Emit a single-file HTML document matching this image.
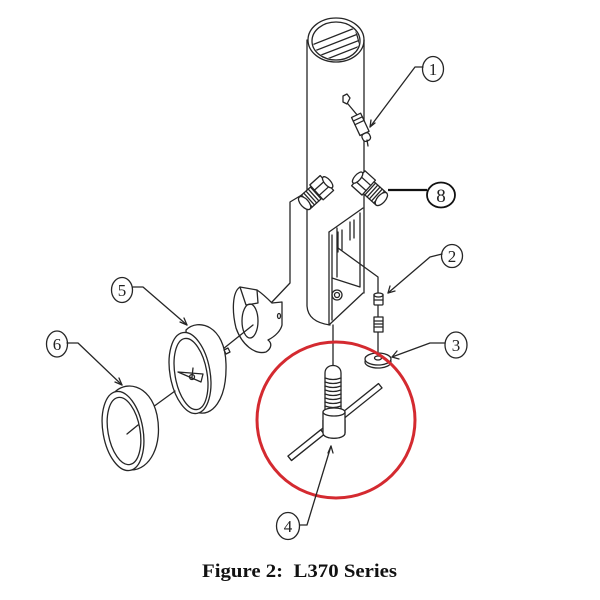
<!DOCTYPE html>
<html><head><meta charset="utf-8">
<style>
html,body{margin:0;padding:0;background:#fff;}
svg{display:block;}
.l{fill:none;stroke:#262626;stroke-width:1.3;stroke-linejoin:round;stroke-linecap:round;}
.w{fill:#fff;stroke:#262626;stroke-width:1.3;stroke-linejoin:round;}
.num{font-family:"Liberation Serif",serif;font-size:17px;fill:#222;text-anchor:middle;}
</style></head>
<body>
<svg width="600" height="600" viewBox="0 0 600 600" xmlns="http://www.w3.org/2000/svg">
<defs>
<clipPath id="topc"><ellipse cx="336" cy="41" rx="23" ry="18"/></clipPath>
</defs>

<!-- Tube -->
<path class="l" d="M307,40 L307,306 Q308,322 330,325"/>
<path class="l" d="M364,40 L364,293"/>
<ellipse class="l" cx="336" cy="40" rx="28" ry="22"/>
<ellipse class="l" cx="336" cy="41" rx="24" ry="19"/>
<g clip-path="url(#topc)" class="l">
  <path d="M312,45 L355,28 M312,52 L358,34 M316,57 L360,40 M322,61 L360,46"/>
  <path d="M355,28 L360,46"/>
</g>
<!-- bottom of body -->
<path class="l" d="M363,293 L330,324"/>
<path class="l" d="M329,232 L329,325 M332,235 L332,320"/>
<path class="l" d="M329,232 L363,208"/>
<path class="l" d="M337,228 L337,277 M360,213 L360,287 M332,278 L360,287"/>
<path class="l" d="M338,232 L338,252 M342,230 L342,250 M350,222 L350,240 M354,220 L354,238"/>
<circle class="l" cx="337" cy="295" r="5"/>
<circle class="l" cx="337" cy="295" r="2.5"/>

<!-- line from inner box to part 2 -->
<path class="l" d="M338,248 L378,277 L378,355"/>

<!-- part 1 fitting -->
<path class="l" d="M343,96 L347,94 L350,98 L347,104 L343,102 Z"/>
<path class="l" d="M348,104 L358,116"/>
<g transform="translate(362,128) rotate(65)">
  <rect class="w" x="-14" y="-5" width="20" height="10"/>
  <path class="l" d="M-10,-5 L-10,5 M-6,-5 L-6,5"/>
  <rect class="w" x="6" y="-4" width="8" height="8" rx="3"/>
</g>
<path class="l" d="M367,140 L368,146"/>

<!-- connector from left fitting down to bracket -->
<path class="l" d="M305,193 L290,202 L290,283 L272,302"/>

<!-- left fitting -->
<g transform="translate(318,191) rotate(-42)">
  <rect class="w" x="-18" y="-8" width="18" height="16"/>
  <path class="l" d="M-15,-8 L-15,8 M-12,-8 L-12,8 M-9,-8 L-9,8 M-6,-8 L-6,8 M-3,-8 L-3,8"/>
  <ellipse class="w" cx="-18" cy="0" rx="4" ry="8"/>
  <rect class="w" x="-2" y="-10" width="14" height="20"/>
  <path class="l" d="M-2,-3 L12,-3 M-2,4 L12,4"/>
  <ellipse class="w" cx="13" cy="0" rx="3" ry="7"/>
</g>
<!-- right fitting -->
<g transform="translate(368,187) rotate(42)">
  <rect class="w" x="0" y="-8" width="18" height="16"/>
  <path class="l" d="M3,-8 L3,8 M6,-8 L6,8 M9,-8 L9,8 M12,-8 L12,8 M15,-8 L15,8"/>
  <ellipse class="w" cx="18" cy="0" rx="4" ry="8"/>
  <rect class="w" x="-13" y="-10" width="14" height="20"/>
  <path class="l" d="M-13,-3 L1,-3 M-13,4 L1,4"/>
  <ellipse class="w" cx="-14" cy="0" rx="3" ry="7"/>
</g>

<!-- bracket -->
<path class="w" d="M240,287 C232,292 232,312 236,328 C242,345 255,355 266,352 C272,348 272,343 268,340 C276,336 281,330 282,325 L282,302 L272,303 C265,296 260,292 257,290 Z"/>
<path class="l" d="M240,287 L246,305 L258,303 L257,290"/>
<ellipse class="l" cx="250" cy="321" rx="8" ry="17"/>
<ellipse class="l" cx="279" cy="316" rx="1.5" ry="2.5"/>
<path class="l" d="M253,325 L223,349"/>

<!-- gauge 5 -->
<path class="w" d="M186,330 C198,318 225,325 226,364 C227,400 212,418 196,412 L190,410 Z"/>
<path class="l" d="M224,350 l4,-2 l2,4 l-4,2 z"/>
<ellipse class="w" cx="190" cy="373" rx="20" ry="41" transform="rotate(-10 190 373)"/>
<ellipse class="l" cx="191" cy="374" rx="16" ry="36" transform="rotate(-10 191 374)"/>
<path class="l" d="M178,372 L203,374 L201,382 Z"/>
<circle class="l" cx="192" cy="377" r="2.5"/>
<path class="l" d="M192,377 L193,368"/>
<path class="l" d="M175,391 L153,407"/>

<!-- bezel 6 -->
<path class="w" d="M113,394 C124,380 150,383 157,415 C163,445 150,470 131,470 L122,468 Z"/>
<ellipse class="w" cx="123" cy="431" rx="20" ry="40" transform="rotate(-10 123 431)"/>
<ellipse class="l" cx="124" cy="431" rx="16" ry="34" transform="rotate(-10 124 431)"/>
<path class="l" d="M127,434 L138,425"/>

<!-- part 2 -->
<rect class="w" x="374" y="294" width="9" height="11" rx="1"/>
<ellipse class="w" cx="378.5" cy="295" rx="4.5" ry="2"/>
<path class="l" d="M374,300 L383,300"/>
<rect class="w" x="374" y="317" width="9" height="15"/>
<path class="l" d="M374,321 L383,321 M374,324 L383,324 M374,327 L383,327"/>
<!-- washer 3 -->
<ellipse class="w" cx="378" cy="362" rx="13" ry="6"/>
<ellipse class="w" cx="378" cy="359" rx="13" ry="6"/>
<ellipse class="l" cx="378" cy="358" rx="3.5" ry="2"/>

<!-- T-handle 4 -->
<path class="l" d="M333,325 L333,366"/>
<g transform="translate(335,422) rotate(-38.7)">
  <rect class="w" x="-58" y="-2.8" width="116" height="5.6"/>
</g>
<path class="w" d="M325,412 L325,373 C325,363 341,363 341,373 L341,412 Z"/>
<path class="l" d="M325,378 Q333,381 341,378 M325,382 Q333,385 341,382 M325,386 Q333,389 341,386 M325,390 Q333,393 341,390 M325,394 Q333,397 341,394 M325,398 Q333,401 341,398 M325,402 Q333,405 341,402 M325,406 Q333,409 341,406"/>
<path class="w" d="M323,412 L323,433 C323,440 345,440 345,433 L345,412 Z"/>
<ellipse class="w" cx="334" cy="412" rx="11" ry="4"/>
<g transform="translate(335,422) rotate(-38.7)">
  <rect class="w" x="-58" y="-2.8" width="42" height="5.6"/>
</g>
<path class="w" d="M323,420 L323,433 C323,440 345,440 345,433 L345,420"/>

<!-- red circle -->
<ellipse cx="336" cy="420" rx="79" ry="78" fill="none" stroke="#d42a30" stroke-width="3"/>

<!-- Leaders & labels -->
<!-- 1 -->
<path class="l" d="M423,67 L415,67 L370,127"/>
<path class="l" d="M370,127 L371,120 M370,127 L375,123"/>
<ellipse class="l" cx="433" cy="69" rx="10.5" ry="12.5"/>
<text class="num" x="433" y="75">1</text>
<!-- 8 -->
<path d="M388,190 L427,190" stroke="#111" stroke-width="2.2"/>
<ellipse cx="441" cy="195" rx="14" ry="12.5" fill="none" stroke="#111" stroke-width="1.8"/>
<text class="num" x="441" y="202" style="font-size:19px">8</text>
<!-- 2 -->
<path class="l" d="M442,254 L430,257 L388,293"/>
<path class="l" d="M388,293 L390,286 M388,293 L395,291"/>
<ellipse class="l" cx="452" cy="256" rx="10.5" ry="11.5"/>
<text class="num" x="452" y="262">2</text>
<!-- 3 -->
<path class="l" d="M445,343 L430,343 L392,357"/>
<path class="l" d="M392,357 L397,351 M392,357 L399,359"/>
<ellipse class="l" cx="456" cy="345" rx="11" ry="13"/>
<text class="num" x="456" y="351">3</text>
<!-- 5 -->
<path class="l" d="M133,287 L143,287 L187,325"/>
<path class="l" d="M187,325 L180,322 M187,325 L184,318"/>
<ellipse class="l" cx="122" cy="290" rx="10.5" ry="12.5"/>
<text class="num" x="122" y="296">5</text>
<!-- 6 -->
<path class="l" d="M67,343 L78,343 L122,385"/>
<path class="l" d="M122,385 L115,382 M122,385 L119,378"/>
<ellipse class="l" cx="57" cy="344" rx="10.5" ry="13"/>
<text class="num" x="57" y="350">6</text>
<!-- 4 -->
<path class="l" d="M300,525 L307,525 L331,446"/>
<path class="l" d="M331,446 L328,453 M331,446 L333,453"/>
<ellipse class="l" cx="288" cy="526" rx="11.5" ry="13.5"/>
<text class="num" x="288" y="532">4</text>

<!-- Caption -->
<text x="202" y="577" textLength="195" lengthAdjust="spacingAndGlyphs" style="font-family:'Liberation Serif',serif;font-weight:bold;font-size:19px;white-space:pre;fill:#111" xml:space="preserve">Figure 2:  L370 Series</text>
</svg>
</body></html>
